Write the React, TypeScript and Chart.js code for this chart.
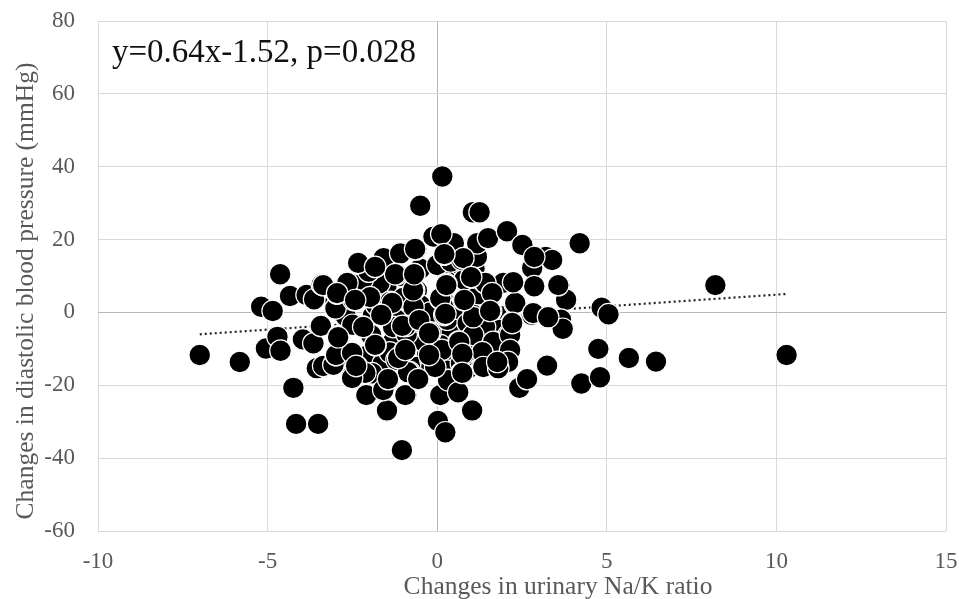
import React, { useEffect, useRef } from "react";
import { Chart, registerables } from "chart.js";

Chart.register(...registerables);

const annotation = "y=0.64x-1.52, p=0.028";
const xTitle = "Changes in urinary Na/K ratio";
const yTitle = "Changes in diastolic blood pressure (mmHg)";

const fillX = [-0.1,0.2,0.9,0.4,1.3,1.5,2,1.8,1.8,2,0.5,0.7,1.1,-1.3,-2.1,-2.3,-1.6,-2.6,-3,-2.5,-2.7,-1.9,-1.1,-0.6,-0.3,-1.5,-1.0,-0.5,-0.2,0.3,0.6,0.9,1.2,-2.0,-1.7,-1.2,-0.8,-0.4,0.1,0.5,1.0,1.4,-1.4,-1.0,-0.6,-0.2,0.3,0.7,1.1,1.5,-2.2,-1.8,-1.3,-0.9,-0.5,0,0.4,0.8];
const fillY = [-5.5,3,3.2,-6,-5,-2,-1,-7,-10,-12,11,13,12,-8,-12,-17,-14,-12,3,4,-1,-1,10,6,-11.5,7,4,2,0,-2,1,-3,5,6,8,-2,-5,-8,-9,-13,-15,-12,-11,-14,-15,-13,-16,-14,-12,-8,9,2,-4,-6,12,13,14,9];

const pointX = [-7.0,-5.82,-5.19,-4.85,-5.05,-4.71,-4.62,-4.63,-4.34,-4.24,-4.16,-3.51,-3.85,-3.63,-3.4,-3.96,-3.65,-3.55,-3.36,-3.06,-2.99,-3.43,-2.91,-3.0,-2.96,-2.69,-2.47,-2.31,-2.02,-1.81,-1.58,-1.09,-1.19,-0.68,-0.62,-0.11,0.14,0.49,0.21,0.73,1.02,1.17,1.17,1.52,2.05,2.5,2.87,2.79,3.38,3.2,2.86,3.6,3.8,2.25,1.96,1.41,1.64,2.28,1.59,0.77,0.27,-0.68,0.09,-1.39,-1.63,-0.7,0.21,2.79,3.28,3.65,3.7,2.2,1.85,2.1,1.67,2.1,1.76,1.33,0.77,0.72,0.33,-0.2,-0.2,-0.55,-0.92,0.63,1.02,-0.96,-0.55,-0.82,-1.43,-1.92,-2.37,-2.52,-1.82,-2.2,-2.5,-1.95,-0.17,-1.2,0.14,1.27,1.41,1.07,-2.1,-0.91,0.09,0.58,2.42,2.65,3.24,-1.48,1.03,0.02,0.24,-1.04,-0.5,0.15,1.05,1.25,4.2,4.25,4.75,4.8,4.85,5.05,5.65,6.45,8.2,10.3];
const pointY = [-11.7,-13.6,1.57,0.4,-9.9,-6.7,-10.5,10.5,4.5,-20.7,-30.6,-30.6,4.8,3.6,7.7,-7.4,-8.5,-15.3,-14.7,-14.4,-11.7,-3.7,-6.5,1.1,5.2,7.8,3.4,13.3,11.2,12.6,14.9,16.2,10.5,10.5,17.3,20.8,21.4,19,15.9,14.4,9.6,15.3,19.1,20.3,22.3,18.5,15.3,12.1,14.4,15.2,7.5,7.5,3.5,8.4,8,8,5.5,2.3,0.4,3.4,7.8,6.1,3.7,2.9,-0.5,1.5,-0.7,-0.7,-1.4,-2,-4.5,-2.7,-4.8,-6.2,-8,-10.3,-13.5,-14.9,-11.7,-16.5,-18.5,-11.7,-5.5,-2.5,-3.7,-8,-6.7,-10.5,-18.4,-16.3,-18.5,-16.7,-14.7,-17.6,-9,-3.9,-3.4,-6.2,-14.9,-13,-10.3,-10.3,-4,-0.7,-22.7,-22.7,-22.7,-21.8,-20.7,-18.3,-14.6,-26.9,-26.9,-29.8,-32.9,-37.8,29.3,37.3,27.5,27.5,19,-19.5,-10,-17.8,1.3,-0.5,-12.5,-13.5,7.5,-11.7];

const midX = [-2.33,-1.24,-0.71,-2.65,-3.36,-1.33,-1.98,0.09,1.18,0.77,2.8,3.39,2.86,2.3,1.95,2.24,1.42,3.57,2.83,3.27,-1.83,-2.98,-2.51,-2.92,-1.03,-0.53,-2.12,-2.51,-0.94,-2.09,0.09,-1.59,-0.86,-1.15,1.06,1.65,2.15,2.15,1.33,2.09,1.36,1.8,0.32,0.62,1.06,-0.06];
const midY = [13.6,10.5,6.1,8.1,7.5,2.6,4.2,3.9,19,14.9,12.2,14.4,7.2,2.6,8.1,8.3,8.1,7.5,-0.2,-1.3,-8.9,-11.7,-11.1,-6.8,-3.7,-2.1,-16.6,-18,-22.7,-22.7,-22.7,-21.3,-16.4,-12.5,-6.2,-8.1,-6.2,-10.3,-10.9,-13.6,-15,-15.3,-18.6,-21.9,-1.3,-15];

const topX = [-1.83,-0.65,-0.68,-2.95,-2.42,0.12,0.21,1.5,2.06,2.51,2.86,1,0.27,0.8,1.62,1.56,-1.65,-2.18,-0.24,-0.94,-0.24,-2.39,-1.45,-0.56,2.21,0.24,0.65,0.74,1.77,0.74];
const topY = [12.5,17.4,10.5,5.3,3.4,21.5,16,20.4,22.3,18.5,15.2,9.7,7.5,3.4,5.3,0.4,-0.7,-4,-5.7,-10.3,-11.7,-14.7,-18.3,-18.3,-2.9,-0.4,-8.1,-11.4,-13.6,-16.6];

const trendX = [-7, 10.3];
const trendY = [-6, 5.07];
const xTicks = { min: -10, max: 15, step: 5 };
const yTicks = { min: -60, max: 80, step: 20 };

const serif = "'Liberation Serif'";

const textPlugin = {
  id: "texts",
  afterDraw(chart: any) {
    const { ctx } = chart;
    ctx.save();
    ctx.textAlign = "left";
    ctx.textBaseline = "alphabetic";
    ctx.fillStyle = "#111111";
    ctx.font = `33px ${serif}`;
    ctx.fillText(annotation, 112, 62);
    ctx.fillStyle = "#595959";
    ctx.font = `25.5px ${serif}`;
    ctx.textAlign = "center";
    ctx.fillText(xTitle, 558, 594);
    ctx.translate(33, 291);
    ctx.rotate(-Math.PI / 2);
    ctx.fillText(yTitle, 0, 0);
    ctx.restore();
  },
};

export default function App() {
  const ref = useRef<HTMLCanvasElement>(null);
  useEffect(() => {
    const allX = [...fillX, ...pointX, ...midX, ...topX];
    const allY = [...fillY, ...pointY, ...midY, ...topY];
    const zeroOr = (v: number) => (v === 0 ? "#b8b8b8" : "#d9d9d9");
    const chart = new Chart(ref.current!, {
      type: "scatter",
      data: {
        datasets: [
          {
            label: "Participants",
            data: allX.map((x, i) => ({ x, y: allY[i] })),
            backgroundColor: "#000000",
            borderColor: "#ffffff",
            borderWidth: 1.2,
            pointRadius: 10.8,
            order: 0,
          },
          {
            label: "Trend",
            type: "line",
            data: trendX.map((x, i) => ({ x, y: trendY[i] })),
            borderColor: "#222222",
            borderWidth: 2.2,
            borderDash: [2, 3],
            pointRadius: 0,
            order: 1,
          },
        ],
      } as any,
      options: {
        responsive: false,
        animation: false,
        layout: { padding: { top: 21, right: 13, left: 0, bottom: 0 } },
        plugins: { legend: { display: false }, tooltip: { enabled: false } },
        scales: {
          x: {
            type: "linear",
            min: xTicks.min,
            max: xTicks.max,
            afterFit: (s: any) => { s.height = 68; s.paddingRight = 0; s.paddingLeft = 0; },
            ticks: { stepSize: xTicks.step, padding: 17, maxRotation: 0, color: "#595959", font: { family: serif, size: 23 } },
            grid: { drawTicks: false, lineWidth: 1, color: (c: any) => zeroOr(c.tick?.value) },
            border: { display: false },
          },
          y: {
            type: "linear",
            min: yTicks.min,
            max: yTicks.max,
            afterFit: (s: any) => { s.width = 98; s.paddingTop = 0; s.paddingBottom = 0; },
            ticks: { stepSize: yTicks.step, padding: 23, color: "#595959", font: { family: serif, size: 23 } },
            grid: { drawTicks: false, lineWidth: 1, color: (c: any) => zeroOr(c.tick?.value) },
            border: { display: false },
          },
        },
      },
      plugins: [textPlugin],
    } as any);
    return () => chart.destroy();
  }, []);
  return (
    <div style={{ position: "absolute", left: 0, top: 0, width: 959, height: 599, background: "#fff" }}>
      <canvas ref={ref} width={959} height={599} style={{ display: "block", filter: "blur(0.4px)" }} />
    </div>
  );
}
